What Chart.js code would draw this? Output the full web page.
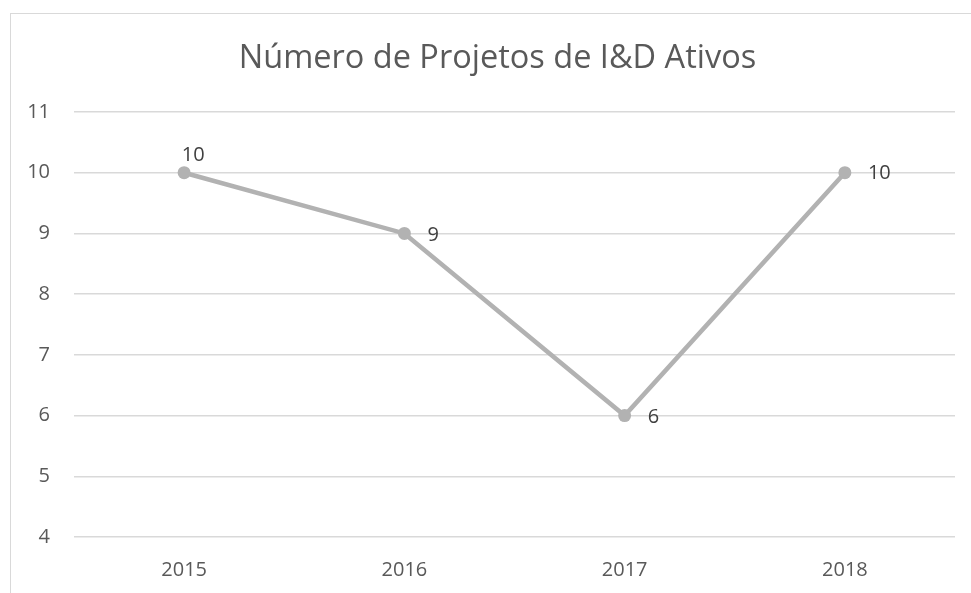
<!DOCTYPE html>
<html>
<head>
<meta charset="utf-8">
<script src="https://cdn.jsdelivr.net/npm/chart.js@4.4.0/dist/chart.umd.min.js"></script>
<style>
  html, body { margin: 0; padding: 0; background: #fff; overflow: hidden; }
  #box {
    position: absolute; left: 10px; top: 13px;
    width: 973px; height: 600px;
    border: 1px solid #d9d9d9;
  }
</style>
</head>
<body>
<div id="box"><canvas id="chartProj"></canvas></div>
<script>
// dados do gráfico
const anos = ['2015', '2016', '2017', '2018'];
const projetos = [10, 9, 6, 10];
const yMin = 4;
const yMax = 11;

// posição dos rótulos de dados (dx, dy, alinhamento)
const labelPos = [
  { dx: 9, dy: -17, align: 'center' },
  { dx: 23, dy: 2, align: 'left' },
  { dx: 23, dy: 2, align: 'left' },
  { dx: 23, dy: 1, align: 'left' }
];

const fontFam = '"Open Sans", sans-serif';

// plugin simples para desenhar os valores junto aos pontos
const dataLabels = {
  id: 'dataLabels',
  afterDatasetsDraw(chart) {
    const ctx = chart.ctx;
    const meta = chart.getDatasetMeta(0);
    ctx.save();
    ctx.font = '20px ' + fontFam;
    ctx.fillStyle = '#404040';
    ctx.textBaseline = 'middle';
    meta.data.forEach((pt, i) => {
      const p = labelPos[i];
      ctx.textAlign = p.align;
      ctx.fillText(String(projetos[i]), pt.x + p.dx, pt.y + p.dy);
    });
    ctx.restore();
  }
};

window.addEventListener('DOMContentLoaded', function() {
  const canvas = document.getElementById('chartProj');
  canvas.width = 973;
  canvas.height = 600;
  canvas.style.width = '973px';
  canvas.style.height = '600px';

  new Chart(canvas.getContext('2d'), {
    type: 'line',
    data: {
      labels: anos,
      datasets: [{
        label: 'Projetos',
        data: projetos,
        borderColor: '#b2b2b2',
        backgroundColor: '#b2b2b2',
        borderWidth: 4.5,
        pointRadius: 6.5,
        pointBorderWidth: 0,
        tension: 0
      }]
    },
    options: {
      responsive: false,
      animation: false,
      layout: { padding: 0 },
      plugins: {
        legend: { display: false },
        tooltip: { enabled: false },
        title: {
          display: true,
          text: 'Número de Projetos de I&D Ativos',
          color: '#595959',
          font: { family: fontFam, size: 32.5, weight: 'normal', lineHeight: 1.2 },
          padding: { top: 25, bottom: 34 }
        }
      },
      scales: {
        x: {
          offset: true,
          grid: { display: false, drawTicks: false },
          border: { display: false },
          ticks: {
            color: '#595959',
            font: { family: fontFam, size: 20 },
            padding: 21
          },
          afterFit(axis) { axis.height = 77; }
        },
        y: {
          min: yMin,
          max: yMax,
          grid: { color: '#d9d9d9', lineWidth: 1.5, drawTicks: false },
          border: { display: false },
          ticks: {
            stepSize: 1,
            color: '#595959',
            font: { family: fontFam, size: 20 },
            padding: 24
          },
          afterFit(axis) { axis.width = 63; }
        },
        // eixo vazio à direita, só para reservar a margem
        yRight: {
          position: 'right',
          grid: { display: false, drawTicks: false },
          border: { display: false },
          ticks: { display: false },
          afterFit(axis) { axis.width = 29; }
        }
      }
    },
    plugins: [dataLabels]
  });
});
</script>
</body>
</html>
